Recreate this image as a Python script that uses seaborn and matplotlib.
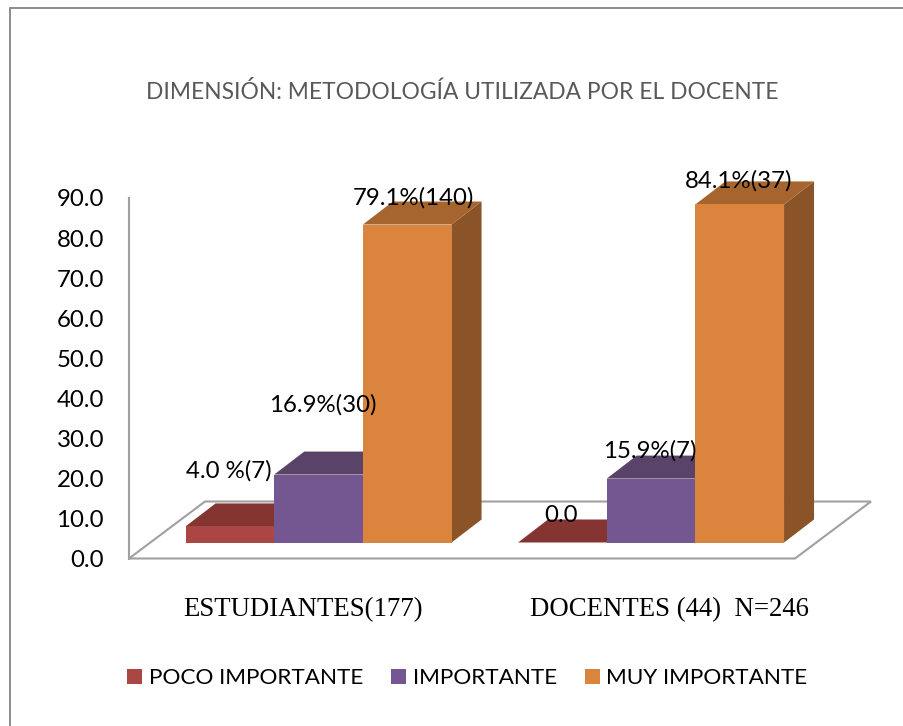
import matplotlib
matplotlib.use("Agg")
import matplotlib.pyplot as plt
import pandas as pd
import seaborn as sns
from matplotlib.patches import Polygon, Rectangle
from matplotlib.lines import Line2D

groups = ['ESTUDIANTES(177)', 'DOCENTES (44)  N=246']
levels = ['POCO IMPORTANTE', 'IMPORTANTE', 'MUY IMPORTANTE']
poco = [4.0, 0.0]
importante = [16.9, 15.9]
muy = [79.1, 84.1]
labels_poco = ['4.0 %(7)', '0.0']
labels_imp = ['16.9%(30)', '15.9%(7)']
labels_muy = ['79.1%(140)', '84.1%(37)']
yticks = [0, 10, 20, 30, 40, 50, 60, 70, 80, 90]
title = 'DIMENSIÓN: METODOLOGÍA UTILIZADA POR EL DOCENTE'

front = ['#AA4643', '#745690', '#DB843D']
top = ['#843532', '#5A4369', '#A6652F']
side = ['#6E2C2A', '#4B3860', '#8A5428']

W, H = 904, 726

df = pd.DataFrame({'grupo': groups * 3,
                   'nivel': [levels[0]] * 2 + [levels[1]] * 2 + [levels[2]] * 2,
                   'valor': poco + importante + muy})

sns.set_theme(style='white')
plt.rcParams['font.family'] = ['Lato', 'DejaVu Sans']

fig = plt.figure(figsize=(W / 100, H / 100), dpi=100)


def box(x0, y0, x1, y1):
    return [x0 / W, 1 - y1 / H, (x1 - x0) / W, (y1 - y0) / H]


# frame round the chart, open on the right and at the bottom
fig.add_artist(Line2D([10 / W, 10 / W], [0, 1 - 8 / H], color='#8c8c8c', lw=1.4))
fig.add_artist(Line2D([10 / W, 1], [1 - 8 / H, 1 - 8 / H], color='#8c8c8c', lw=1.4))

# value axis sits on the back wall
ax_y = fig.add_axes(box(129, 198, 795, 558.5))
ax_y.set_ylim(0, 90)
ax_y.set_xlim(129, 795)
ax_y.patch.set_alpha(0)
ax_y.set_yticks(yticks)
ax_y.set_yticklabels(['%.1f' % t for t in yticks], fontsize=17.3, color='black')
ax_y.tick_params(axis='y', length=0, pad=18)
ax_y.set_xticks([])
for s in ['top', 'right', 'bottom']:
    ax_y.spines[s].set_visible(False)
ax_y.spines['left'].set_color('#a0a0a0')
ax_y.spines['left'].set_linewidth(1.5)

# floor of the 3d box, in pixel units of ax_y's x and value units of y
px = 90 / 360.5
floor = [(129, 0), (795, 0), (871, 57 * px), (205, 57 * px)]
ax_y.add_patch(Polygon(floor, closed=True, fc='white', ec='#a0a0a0', lw=1.5, zorder=1, clip_on=False))

# bars are drawn in their own axes, 16px above the axis origin
ax = fig.add_axes(box(152.3, 198, 817.3, 542.5))
ax.patch.set_alpha(0)
sns.barplot(data=df, x='grupo', y='valor', hue='nivel', order=groups, hue_order=levels,
            palette=front, width=0.8, dodge=True, errorbar=None, legend=False,
            saturation=1, linewidth=0, ax=ax)
ax.set_ylim(0, 344.5 / 4.02)
ax.set_xlim(-0.5, 1.5)
ax.axis('off')

to_px = ax.transData
inv = ax.transData.inverted()
dx_pix, dy_pix = 30, 23

bars = []
for i, cont in enumerate(ax.containers):
    for j, b in enumerate(cont):
        bars.append((i, j, b))

for i, j, b in bars:
    x0, x1 = b.get_x(), b.get_x() + b.get_width()
    h = b.get_height()
    tl, tr, br = to_px.transform([(x0, h), (x1, h), (x1, 0)])
    off = (dx_pix, dy_pix)
    tl2 = inv.transform(tl + off)
    tr2 = inv.transform(tr + off)
    br2 = inv.transform(br + off)
    ax.add_patch(Polygon([(x0, h), (x1, h), tr2, tl2], closed=True, fc=top[i], ec='none',
                         zorder=b.get_zorder() - 0.1 + i * 0.01, clip_on=False))
    if i == 2:
        ax.add_patch(Polygon([(x1, 0), (x1, h), tr2, br2], closed=True, fc=side[i], ec='none',
                             zorder=b.get_zorder() - 0.1, clip_on=False))

# data labels, placed off the bar tops (pixels)
lab_off = {0: [(-1, 55.5), (-1.5, 27)], 1: [(4, 70), (-1, 28)], 2: [(6, 26.5), (-1, 24)]}
all_labels = [labels_poco, labels_imp, labels_muy]
for i, j, b in bars:
    cx = b.get_x() + b.get_width() / 2
    ax.annotate(all_labels[i][j], (cx, b.get_height()), xytext=lab_off[i][j],
                textcoords='offset pixels', ha='center', va='center', fontsize=17.3,
                color='black', zorder=20, annotation_clip=False)

# category names in a serif face, below the floor
fig.text(303.5 / W, 1 - 610 / H, groups[0], family='Liberation Serif', fontsize=19.3,
         ha='center', va='center', color='black')
fig.text(669 / W, 1 - 610 / H, groups[1], family='Liberation Serif', fontsize=19.3,
         ha='center', va='center', color='black')

fig.text(462 / W, 1 - 92 / H, title, fontsize=16.4, ha='center', va='center', color='#595959')

# legend
leg_x = [127, 391, 585]
text_x = [149, 413, 606]
for c, lx, tx, name in zip(front, leg_x, text_x, levels):
    fig.add_artist(Rectangle((lx / W, 1 - 684 / H), 15 / W, 15 / H, transform=fig.transFigure,
                             fc=c, ec='none'))
    fig.text(tx / W, 1 - 677.5 / H, name, fontsize=16.2, ha='left', va='center', color='black')

fig.savefig('out.png', dpi=100, facecolor='white')
